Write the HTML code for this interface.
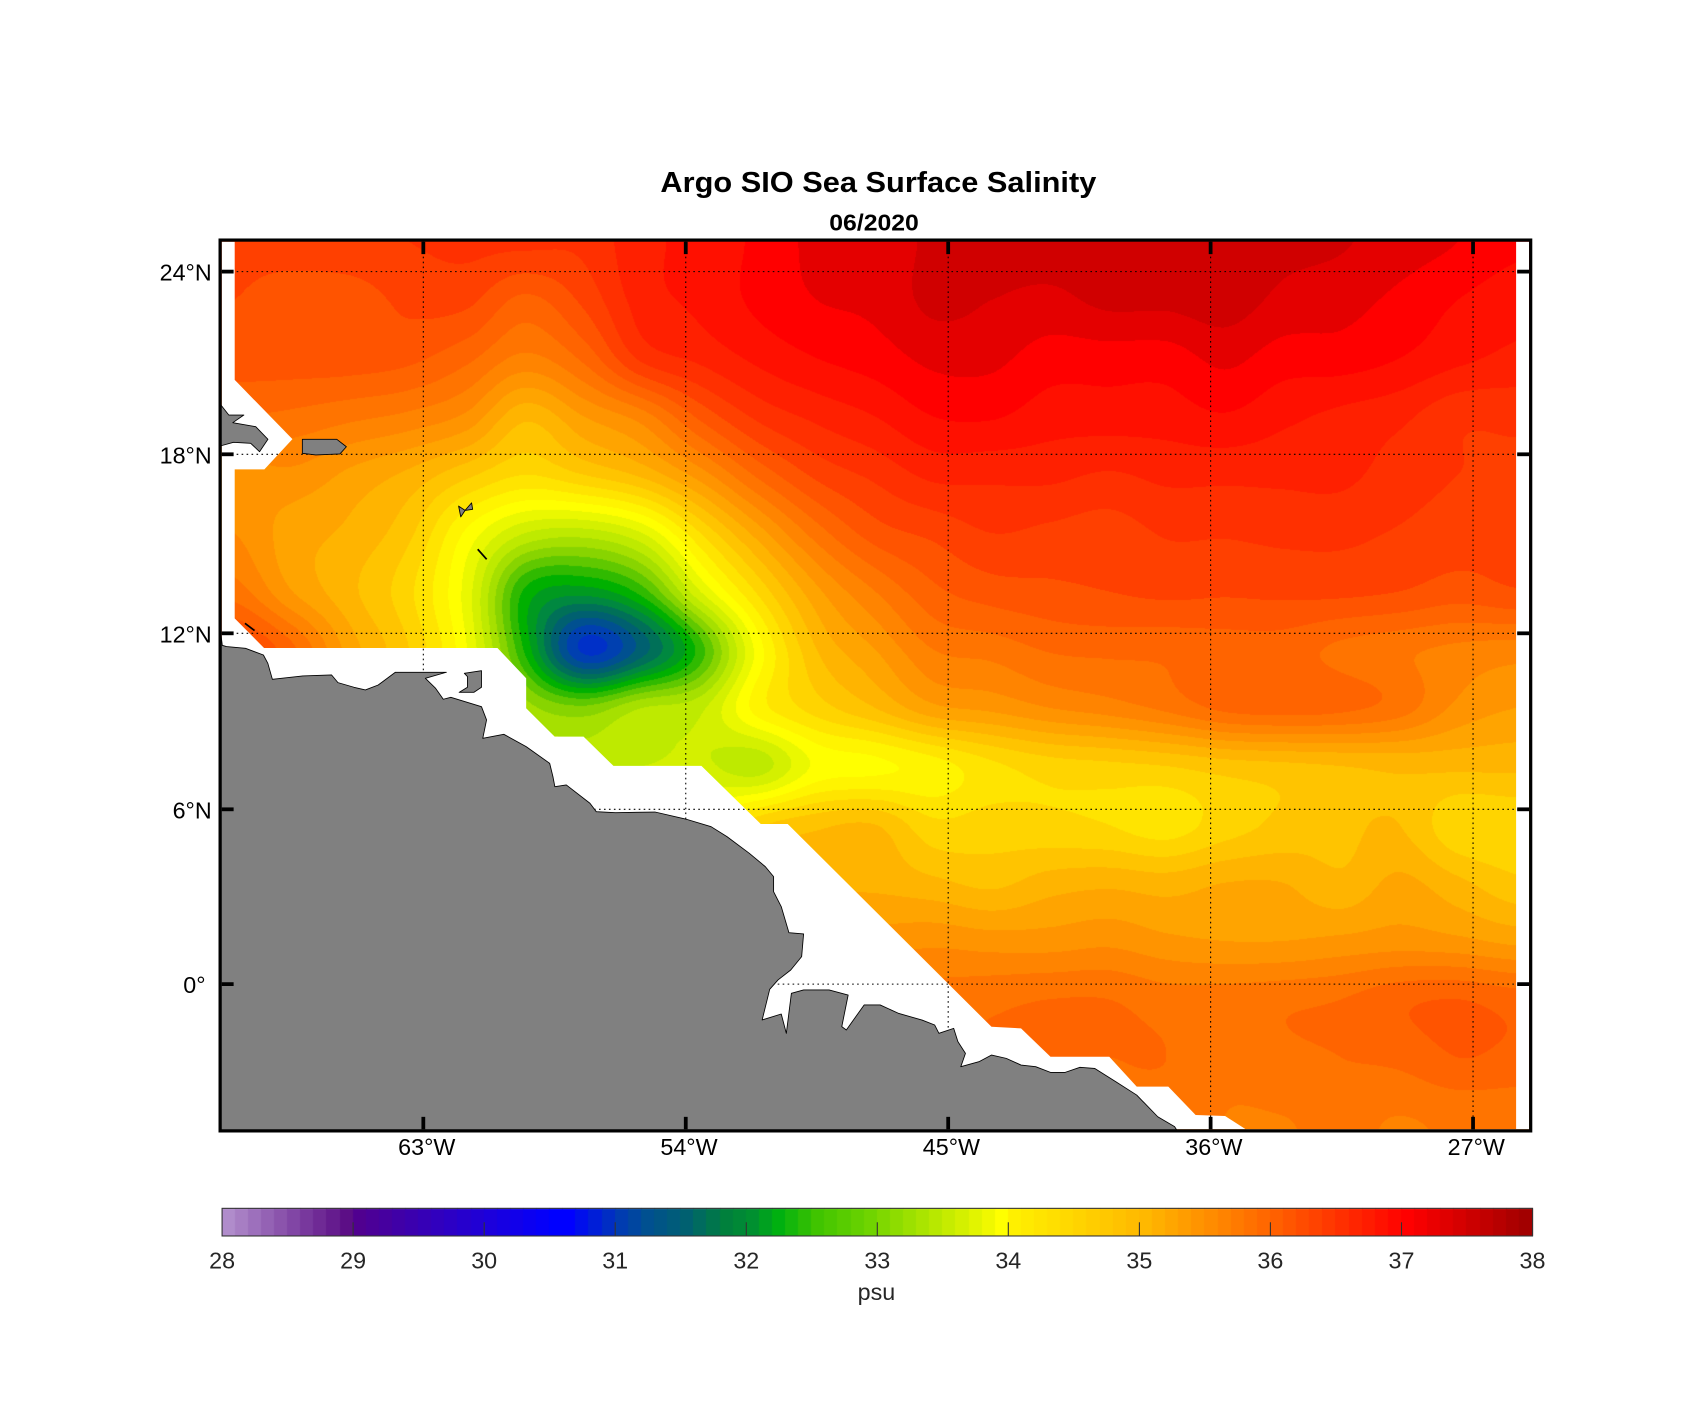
<!DOCTYPE html>
<html><head><meta charset="utf-8">
<style>
html,body{margin:0;padding:0;background:#fff;}
#wrap{position:relative;width:1692px;height:1421px;overflow:hidden;background:#fff;}
canvas,svg{position:absolute;left:0;top:0;}
text{font-family:"Liberation Sans",Arial,Helvetica,sans-serif;}
</style></head><body>
<div id="wrap">
<canvas id="c" width="1692" height="1421"></canvas>
<svg width="1692" height="1421" viewBox="0 0 1568 1316.86" preserveAspectRatio="none">
<path fill="#fff" fill-rule="evenodd" d="M205.5,224 H1417 V1046.5 H205.5 Z M217.5,224 L1405,224 L1405,1048 L1156.8,1048 L1135.3,1034.2 L1108,1033.3 L1082.7,1007 L1053.4,1007 L1028,979.3 L973.5,979.3 L946.2,953 L918.8,951.5 L730,763.6 L705,763.6 L650,709.8 L568.5,709.8 L540.8,682.6 L514,682.6 L487.6,656.4 L487.6,628.6 L461,600.5 L244.7,600.5 L217.5,573 L217.5,435 L245,435 L271,407 L217.5,352 Z"/>
<g stroke="#000" stroke-width="1" stroke-dasharray="1.5 3.1" fill="none">
<line x1="392.3" y1="224" x2="392.3" y2="1046"/>
<line x1="635.5" y1="224" x2="635.5" y2="1046"/>
<line x1="878.7" y1="224" x2="878.7" y2="1046"/>
<line x1="1121.9" y1="224" x2="1121.9" y2="1046"/>
<line x1="1365.1" y1="224" x2="1365.1" y2="1046"/>
<line x1="205.5" y1="251.7" x2="1417" y2="251.7"/>
<line x1="205.5" y1="421" x2="1417" y2="421"/>
<line x1="205.5" y1="586.9" x2="1417" y2="586.9"/>
<line x1="205.5" y1="750" x2="1417" y2="750"/>
<line x1="205.5" y1="912" x2="1417" y2="912"/>
</g>
<g fill="#808080" stroke="#000" stroke-width="0.8" stroke-linejoin="round">
<path d="M204,582 L206,598 L209.8,599.2 L227.5,600.8 L244.1,607 L248.2,614.7 L252.4,629.5 L280.7,626.4 L307.3,625.5 L313.2,632.6 L328,636.9 L338.6,639.4 L350.5,634.8 L366.4,623 L413.7,623 L394.2,628.6 L403.7,637.9 L410.8,648 L417.8,646.2 L446.2,654.9 L450.9,667.2 L447.4,684.2 L466.9,680.5 L487.6,691.9 L509.4,707.4 L512.4,719.7 L514.2,729 L524.8,727.4 L546.7,744.4 L552.6,752.2 L570.3,753.1 L607,752.5 L635.3,759 L659,766.1 L673.7,775.3 L694.4,790.8 L709.2,803.1 L716.9,812.4 L716.9,826.3 L724,840.2 L731.1,864.3 L744.7,865.5 L742.9,886.5 L732.8,898.9 L721,908.1 L713.3,916.8 L706.3,945.2 L724,939.7 L728.7,957.6 L733.4,920.5 L744.7,917.4 L768.3,917.4 L786,922.1 L780.1,951.4 L784.3,954.5 L800.8,931.3 L815.6,931.3 L833,939.2 L854.5,945.3 L866.2,949.9 L870.1,957.6 L883.8,953 L887.7,965.3 L894.7,976.2 L890.4,988.5 L907.2,983.9 L918.9,977.7 L932.5,980.8 L946.2,987 L959.8,988.5 L973.5,993.8 L987.1,993.8 L1000.8,989.1 L1014.4,990.1 L1033.9,1002.4 L1053.4,1014.8 L1072.9,1034.9 L1088.5,1044.1 L1091,1048 L204,1048 Z"/>
<path d="M430.3,624 L446.2,621.5 L446.2,636.9 L439.1,641.6 L425.5,641.6 L433.2,636.9 L433.2,627 Z"/>
<path d="M280.2,407.1 L312.1,407.1 L321,414 L315,420.7 L292.6,421.6 L280.2,420.1 Z"/>
<path d="M204,374.4 L212,384.6 L226,384.6 L215.7,391.7 L237,395.4 L248.3,407.1 L240.5,418.6 L232.3,410.8 L216.4,409.9 L204,413.3 Z"/>
<path d="M425,469 L431,473 L437,466 L438,472 L431,473 L427,479 Z"/>
</g>
<g stroke="#000" stroke-width="1.6" fill="none">
<line x1="442.7" y1="509" x2="451" y2="518.3"/>
<line x1="227" y1="577.6" x2="235.9" y2="584.4"/>
</g>
<rect x="204" y="222.5" width="1214.5" height="825.5" fill="none" stroke="#000" stroke-width="3"/>
<g stroke="#000" stroke-width="3.5">
<line x1="205.5" y1="251.7" x2="216.5" y2="251.7"/><line x1="1406" y1="251.7" x2="1417" y2="251.7"/>
<line x1="205.5" y1="421" x2="216.5" y2="421"/><line x1="1406" y1="421" x2="1417" y2="421"/>
<line x1="205.5" y1="586.9" x2="216.5" y2="586.9"/><line x1="1406" y1="586.9" x2="1417" y2="586.9"/>
<line x1="205.5" y1="750" x2="216.5" y2="750"/><line x1="1406" y1="750" x2="1417" y2="750"/>
<line x1="205.5" y1="912" x2="216.5" y2="912"/><line x1="1406" y1="912" x2="1417" y2="912"/>
<line x1="392.3" y1="224" x2="392.3" y2="235.5"/><line x1="392.3" y1="1035" x2="392.3" y2="1046.5"/>
<line x1="635.5" y1="224" x2="635.5" y2="235.5"/><line x1="635.5" y1="1035" x2="635.5" y2="1046.5"/>
<line x1="878.7" y1="224" x2="878.7" y2="235.5"/><line x1="878.7" y1="1035" x2="878.7" y2="1046.5"/>
<line x1="1121.9" y1="224" x2="1121.9" y2="235.5"/><line x1="1121.9" y1="1035" x2="1121.9" y2="1046.5"/>
<line x1="1365.1" y1="224" x2="1365.1" y2="235.5"/><line x1="1365.1" y1="1035" x2="1365.1" y2="1046.5"/>
</g>
<text x="814" y="177.9" text-anchor="middle" font-size="26.9" font-weight="bold" textLength="404" lengthAdjust="spacingAndGlyphs">Argo SIO Sea Surface Salinity</text>
<text x="810" y="213.4" text-anchor="middle" font-size="21.6" font-weight="bold" textLength="83" lengthAdjust="spacingAndGlyphs">06/2020</text>
<g font-size="21.6" fill="#000" text-anchor="end">
<text x="196.2" y="260.1">24°N</text>
<text x="196.2" y="429.4">18°N</text>
<text x="196.2" y="595.3">12°N</text>
<text x="196.2" y="758.4">6°N</text>
<text x="190.5" y="920.4">0°</text>
</g>
<g font-size="21.6" fill="#000" text-anchor="middle">
<text x="395.5" y="1070.4">63°W</text>
<text x="638.5" y="1070.4">54°W</text>
<text x="881.7" y="1070.4">45°W</text>
<text x="1124.9" y="1070.4">36°W</text>
<text x="1368.1" y="1070.4">27°W</text>
</g>
<rect x="205.8" y="1119.8" width="1214.4" height="25.6" fill="none" stroke="#333" stroke-width="1"/>
<g stroke="#333" stroke-width="1">
<line x1="327.2" y1="1132.7" x2="327.2" y2="1145.4"/>
<line x1="448.7" y1="1132.7" x2="448.7" y2="1145.4"/>
<line x1="570.1" y1="1132.7" x2="570.1" y2="1145.4"/>
<line x1="691.6" y1="1132.7" x2="691.6" y2="1145.4"/>
<line x1="813" y1="1132.7" x2="813" y2="1145.4"/>
<line x1="934.4" y1="1132.7" x2="934.4" y2="1145.4"/>
<line x1="1055.9" y1="1132.7" x2="1055.9" y2="1145.4"/>
<line x1="1177.3" y1="1132.7" x2="1177.3" y2="1145.4"/>
<line x1="1298.8" y1="1132.7" x2="1298.8" y2="1145.4"/>
</g>
<g font-size="21.6" fill="#262626" text-anchor="middle">
<text x="205.8" y="1175.4">28</text>
<text x="327.2" y="1175.4">29</text>
<text x="448.7" y="1175.4">30</text>
<text x="570.1" y="1175.4">31</text>
<text x="691.6" y="1175.4">32</text>
<text x="813" y="1175.4">33</text>
<text x="934.4" y="1175.4">34</text>
<text x="1055.9" y="1175.4">35</text>
<text x="1177.3" y="1175.4">36</text>
<text x="1298.8" y="1175.4">37</text>
<text x="1420.2" y="1175.4">38</text>
<text x="812.2" y="1204.7">psu</text>
</g>
</svg>
</div>
<script>
(function(){
var K=1692/1568;
var R15=[35.8,35.8,35.8,35.8,35.8,35.8,35.8,35.8,35.8,35.8,35.8,35.8,35.8,35.8,35.8,35.8,35.8,35.7,35.7,35.75,35.7,35.75,35.75];
var G=[
[36.35,36.4,36.45,36.5,36.55,36.55,36.55,36.85,36.95,37.15,37.35,37.35,37.55,37.6,37.6,37.6,37.6,37.6,37.55,37.52,37.4,37.3,37.15],
[36.3,36.2,36.2,36.35,36.35,36.05,36.35,36.8,36.95,37.15,37.3,37.35,37.55,37.5,37.45,37.55,37.55,37.6,37.45,37.38,37.25,37.1,36.98],
[36.2,36.2,36.2,36.15,35.95,35.65,35.95,36.55,36.75,36.95,37.1,37.2,37.35,37.35,37.2,37.2,37.2,37.35,37.2,37.2,37.1,36.95,36.85],
[35.9,35.85,35.75,35.65,35.45,34.95,35.3,35.6,36.15,36.55,36.75,36.9,37.1,37.12,37.0,37.0,37.0,37.08,36.95,36.85,36.75,36.55,36.55],
[35.4,35.45,35.25,35.05,34.75,34.5,34.7,34.95,35.4,35.95,36.35,36.55,36.75,36.75,36.75,36.68,36.75,36.75,36.75,36.75,36.6,36.5,36.45],
[35.5,35.2,35.05,34.75,34.05,33.5,33.4,33.7,34.5,35.2,35.8,36.2,36.35,36.5,36.45,36.4,36.52,36.52,36.55,36.55,36.48,36.4,36.35],
[35.8,35.3,34.95,34.55,33.8,32.45,32.2,32.6,33.7,34.55,35.25,35.7,36.05,36.2,36.25,36.3,36.35,36.33,36.35,36.35,36.3,36.2,36.28],
[36.4,35.95,35.2,34.7,33.9,32.45,31.05,31.6,32.6,34.0,34.9,35.3,35.7,35.78,35.92,35.95,35.95,36.0,36.0,35.85,35.75,35.65,35.6],
[36.2,35.9,35.2,34.7,34.0,33.2,32.95,33.3,33.45,34.2,34.6,34.9,35.25,35.35,35.5,35.6,35.75,35.95,36.0,35.95,35.8,35.45,35.3],
[36.0,35.6,35.0,34.5,34.0,33.6,33.45,33.5,33.55,33.4,33.95,34.05,34.2,34.45,34.6,34.65,34.7,34.8,34.85,34.9,34.95,34.95,34.95],
[35.8,35.4,35.0,34.6,34.3,34.0,33.9,33.9,34.1,34.65,34.85,34.9,34.55,34.6,34.55,34.5,34.4,34.6,34.75,34.85,34.9,34.55,34.55],
[35.6,35.3,35.0,34.8,34.6,34.5,34.5,34.6,34.8,35.0,35.05,35.05,34.95,34.85,35.0,35.05,35.0,35.1,35.1,34.95,35.15,34.95,34.75],
[35.6,35.4,35.2,35.1,35.0,35.0,35.0,35.1,35.2,35.3,35.35,35.4,35.45,35.4,35.4,35.45,35.35,35.3,35.3,35.35,35.4,35.35,35.25],
[35.8,35.8,35.8,35.8,35.8,35.8,35.8,35.8,35.8,35.8,35.8,35.8,35.8,35.85,35.9,35.9,35.8,35.8,35.85,35.9,36.05,36.1,36.0],
[35.9,35.9,35.9,35.9,35.9,35.9,35.9,35.9,35.9,35.9,35.9,35.9,35.9,35.9,35.9,35.9,35.9,35.75,35.85,35.9,35.95,36.1,36.05],
R15,R15
];
function hx(h){return [parseInt(h.substr(0,2),16),parseInt(h.substr(2,2),16),parseInt(h.substr(4,2),16)];}
var MS=['0030C8','0040B0','005090','006070','007058','008840','009A20','00B000','30BA00','60C800','88D400','A6E000','BEEA00','D4F000','EAF800','FFFF00','FFF400','FFE400','FFD400','FFC400','FFB400','FFA400','FF9400','FF8400','FF7400','FF6400','FF5400','FF4000','FF3000','FF2000','FF1000','FF0000','E40000','D00000','C00000'].map(hx);
function cr(a,b,c,d,t){return b+0.5*t*(c-a+t*(2*a-5*b+4*c-d+t*(3*(b-c)+d-a)));}
function g(i,j){if(i<0)i=0;if(i>16)i=16;if(j<0)j=0;if(j>22)j=22;return G[i][j];}
function field(x,y){
 var gx=(x-217)/54,gy=(y-224)/54;
 var j=Math.floor(gx),i=Math.floor(gy),tx=gx-j,ty=gy-i;
 var r=[];
 for(var a=-1;a<=2;a++){r.push(cr(g(i+a,j-1),g(i+a,j),g(i+a,j+1),g(i+a,j+2),tx));}
 return cr(r[0],r[1],r[2],r[3],ty);
}
var cv=document.getElementById('c');var ctx=cv.getContext('2d');
var X0=221,X1=1530,Y0=240,Y1=1131,W=X1-X0,H=Y1-Y0;
var img=ctx.createImageData(W,H);var d=img.data;
for(var Y=0;Y<H;Y++){
 var y=(Y0+Y+0.5)/K;
 for(var X=0;X<W;X++){
  var x=(X0+X+0.5)/K;
  var v=field(x,y);
  var k=Math.floor((v-30.9)/0.2);
  if(k<0)k=0;if(k>=MS.length)k=MS.length-1;
  var c=MS[k];var p=(Y*W+X)*4;
  d[p]=c[0];d[p+1]=c[1];d[p+2]=c[2];d[p+3]=255;
 }
}
ctx.putImageData(img,X0,Y0);
var CS=[[28.0,'B08CCB'],[28.9,'5C0E86'],[29.0,'500090'],[30.0,'1C00DC'],[30.5,'0000FF'],[30.6,'0000FF'],[31.0,'003CB0'],[31.2,'005090'],[31.5,'006070'],[31.8,'00803C'],[32.0,'009030'],[32.2,'00B010'],[32.5,'40C400'],[32.9,'70D400'],[33.0,'80D800'],[33.8,'F0F800'],[33.9,'FFFF00'],[34.0,'FFF000'],[34.9,'FFBC00'],[35.0,'FFB800'],[35.9,'FF6800'],[36.0,'FF6000'],[36.9,'FF0800'],[37.0,'FF0000'],[37.9,'A20000']].map(function(s){return [s[0],hx(s[1])];});
function cb(v){
 for(var i=0;i<CS.length-1;i++){
  if(v<=CS[i+1][0]+1e-9){var t=(v-CS[i][0])/(CS[i+1][0]-CS[i][0]);if(t<0)t=0;
   var a=CS[i][1],b=CS[i+1][1];
   return 'rgb('+Math.round(a[0]+(b[0]-a[0])*t)+','+Math.round(a[1]+(b[1]-a[1])*t)+','+Math.round(a[2]+(b[2]-a[2])*t)+')';}
 }
 var e=CS[CS.length-1][1];return 'rgb('+e[0]+','+e[1]+','+e[2]+')';
}
var bw=1214.4/100;
for(var n=0;n<100;n++){
 ctx.fillStyle=cb(28+n*0.1);
 var xa=(205.8+n*bw)*K,xb=(205.8+(n+1)*bw)*K;
 ctx.fillRect(Math.floor(xa),1119.8*K,Math.ceil(xb)-Math.floor(xa),25.6*K);
}
})();
</script>
</body></html>
